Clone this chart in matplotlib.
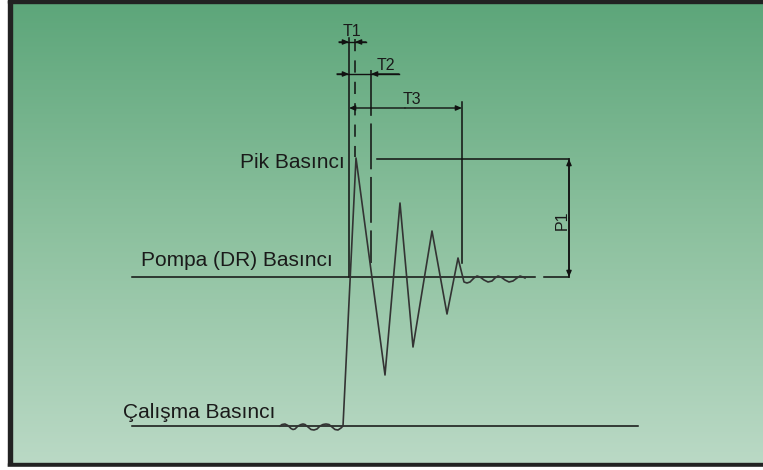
import numpy as np
import matplotlib.pyplot as plt
from matplotlib.colors import LinearSegmentedColormap

# pressure trace, in drawing units (x = time, y = pressure, y grows downward)
trace_t = [280, 282, 285, 288, 291, 293, 295, 298, 301, 303, 305, 308, 311,
           314, 317, 320, 323, 326, 329, 332, 335, 338, 341, 343,
           356, 385, 400, 413, 432, 447, 458, 464, 467, 470, 474, 477, 480,
           484, 488, 492, 495, 498, 501, 505, 509, 513, 517, 520, 523, 525]
trace_p = [426, 424.5, 424, 425.5, 428.5, 429.5, 429, 426, 424.5, 424, 424.5,
           427, 429.5, 430, 429, 426, 424.5, 424, 424.5, 427, 429.5, 430, 428,
           426,
           158, 375, 203, 347, 231, 314, 258, 282, 283, 282, 278, 276, 277,
           280, 282, 281, 278, 276, 277, 280, 282, 281, 278, 276, 277, 278]

# reference pressure levels
work_p = 426
pump_p = 277
peak_p = 159

# time markers
t0 = 349
t1 = 355
t2 = 371
t3 = 462
p1_x = 569

labels = ["Pik Basıncı", "Pompa (DR) Basıncı", "Çalışma Basıncı"]

W, H = 763, 470
fig = plt.figure(figsize=(W / 100, H / 100), dpi=100)
ax = fig.add_axes([0, 0, 1, 1])
ax.set_xlim(0, W)
ax.set_ylim(H, 0)
ax.axis('off')

# background gradient
cmap = LinearSegmentedColormap.from_list('g', ['#5da67a', '#8dc19f', '#bad9c5'])
grad = np.linspace(0, 1, 256).reshape(-1, 1)
ax.imshow(grad, cmap=cmap, aspect='auto', extent=[12, W, 463, 3], zorder=0)

# frame
ax.add_patch(plt.Rectangle((0, 0), 8, H, color='white', zorder=1))
ax.add_patch(plt.Rectangle((8, 0), 4, 467, color='#222222', zorder=1))
ax.add_patch(plt.Rectangle((8, 0), W, 3, color='#222222', zorder=1))
ax.add_patch(plt.Rectangle((8, 463), W, 4, color='#222222', zorder=1))
ax.add_patch(plt.Rectangle((0, 467), W, 3, color='white', zorder=1))

lc = '#111111'
# pressure level lines
ax.plot([132, 638], [work_p, work_p], color=lc, lw=1.1)
ax.plot([132, 535], [pump_p, pump_p], color=lc, lw=1.1)
ax.plot([544, p1_x], [pump_p, pump_p], color=lc, lw=1.1)
ax.plot([377, p1_x], [peak_p, peak_p], color=lc, lw=1.1)

# trace
ax.plot(trace_t, trace_p, color='#333333', lw=1.2, zorder=3)

# vertical markers
ax.plot([t0, t0], [38, pump_p], color=lc, lw=1.1)
ax.plot([t1, t1], [39, 157], color=lc, lw=1.1, dashes=(8, 6))
ax.plot([t2, t2], [70, 263], color=lc, lw=1.1, dashes=(30, 5))
ax.plot([t3, t3], [102, 263], color=lc, lw=1.1)
ax.plot([p1_x, p1_x], [peak_p, pump_p], color=lc, lw=1.1)

# dimension base lines
ax.plot([339, 366], [42, 42], color=lc, lw=1.0)
ax.plot([337, 399], [74, 74], color=lc, lw=1.0)

arw = dict(arrowstyle='-|>,head_length=0.35,head_width=0.15', color=lc, lw=1.0,
           shrinkA=0, shrinkB=0)
# T1
ax.annotate('', xy=(t0, 42), xytext=(339, 42), arrowprops=arw)
ax.annotate('', xy=(t1, 42), xytext=(366, 42), arrowprops=arw)
# T2
ax.annotate('', xy=(t0, 74), xytext=(337, 74), arrowprops=arw)
ax.annotate('', xy=(t2, 74), xytext=(399, 74), arrowprops=arw)
# T3
ax.annotate('', xy=(t0, 108), xytext=(405, 108), arrowprops=arw)
ax.annotate('', xy=(t3, 108), xytext=(405, 108), arrowprops=arw)
# P1
ax.annotate('', xy=(p1_x, peak_p), xytext=(p1_x, 218), arrowprops=arw)
ax.annotate('', xy=(p1_x, pump_p), xytext=(p1_x, 218), arrowprops=arw)

fnt = 'Liberation Sans'
tc = '#1a1a1a'
ax.text(352, 31, 'T1', fontsize=11.5, family=fnt, color=tc, ha='center', va='center')
ax.text(386, 65, 'T2', fontsize=11.5, family=fnt, color=tc, ha='center', va='center')
ax.text(412, 99, 'T3', fontsize=11.5, family=fnt, color=tc, ha='center', va='center')
ax.text(562, 220, 'P1', fontsize=11.5, family=fnt, color=tc, ha='center', va='center',
        rotation=90)

ax.text(345, 163, labels[0], fontsize=15, family=fnt, color=tc, ha='right', va='center')
ax.text(141, 261, labels[1], fontsize=15, family=fnt, color=tc, ha='left', va='center')
ax.text(123, 412, labels[2], fontsize=15, family=fnt, color=tc, ha='left', va='center')

fig.savefig('out.png', dpi=100)
